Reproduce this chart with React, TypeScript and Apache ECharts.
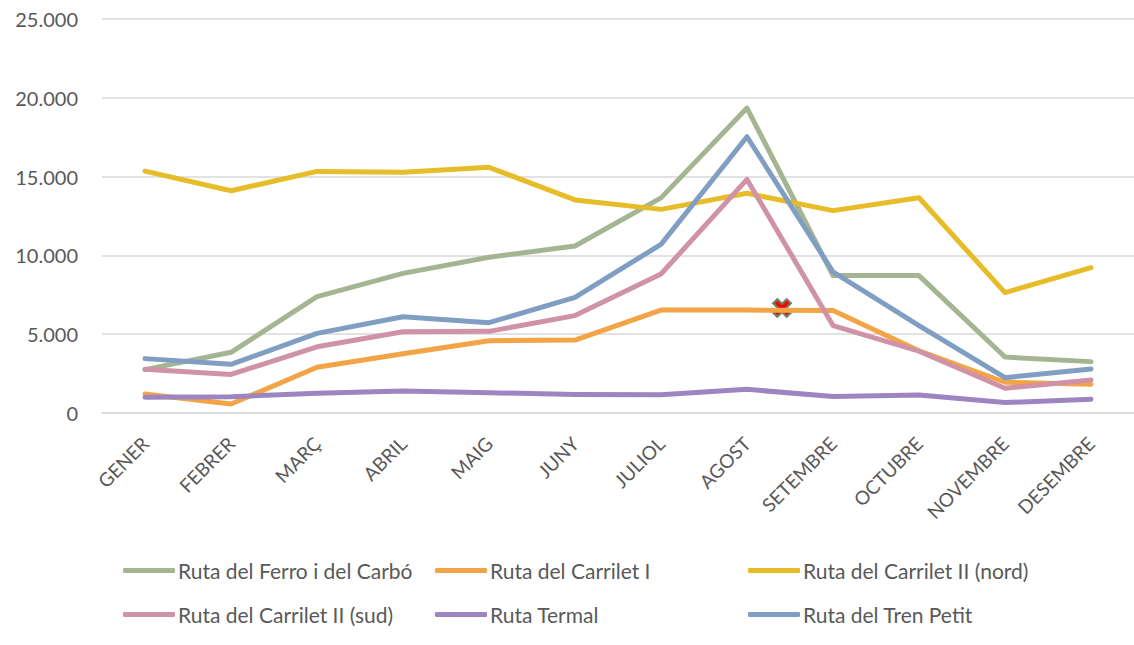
import React, { useEffect, useRef } from "react";
import * as echarts from "echarts";

const months = ["GENER", "FEBRER", "MARÇ", "ABRIL", "MAIG", "JUNY", "JULIOL", "AGOST", "SETEMBRE", "OCTUBRE", "NOVEMBRE", "DESEMBRE"];

const seriesNames = [
  "Ruta del Ferro i del Carbó",
  "Ruta del Carrilet I",
  "Ruta del Carrilet II (nord)",
  "Ruta del Carrilet II (sud)",
  "Ruta Termal",
  "Ruta del Tren Petit",
];

const ferroCarbo = [2750, 3850, 7380, 8860, 9880, 10600, 13650, 19350, 8720, 8720, 3550, 3260];
const carriletI = [1200, 570, 2900, 3760, 4590, 4630, 6530, 6530, 6500, 3950, 1950, 1830];
const carriletIINord = [15350, 14100, 15330, 15270, 15590, 13520, 12920, 13940, 12840, 13660, 7640, 9220];
const carriletIISud = [2780, 2450, 4200, 5150, 5180, 6180, 8820, 14820, 5550, 3920, 1570, 2090];
const termal = [1000, 1030, 1250, 1400, 1290, 1170, 1160, 1500, 1040, 1140, 660, 870];
const trenPetit = [3450, 3090, 5050, 6110, 5730, 7340, 10700, 17530, 8960, 5550, 2240, 2790];

const seriesData = [ferroCarbo, carriletI, carriletIINord, carriletIISud, termal, trenPetit];
const colors = ["#A5B592", "#F3A447", "#E7BC29", "#D092A7", "#9C85C0", "#809EC2"];

const yMin = 0;
const yMax = 25000;
const yInterval = 5000;

const legendPos = [
  { left: 118, top: 560 },
  { left: 430, top: 560 },
  { left: 743, top: 560 },
  { left: 118, top: 604 },
  { left: 430, top: 604 },
  { left: 743, top: 604 },
];

const fmt = (v: number) => String(v).replace(/\B(?=(\d{3})+(?!\d))/g, ".");

export default function App() {
  const ref = useRef<HTMLDivElement>(null);
  useEffect(() => {
    if (!ref.current) return;
    const chart = echarts.init(ref.current, null, { renderer: "svg" });
    const font = "Lato, 'Noto Sans', sans-serif";
    chart.setOption({
      animation: false,
      backgroundColor: "#ffffff",
      grid: { left: 102, top: 19, width: 1034, height: 394, containLabel: false },
      xAxis: {
        type: "category",
        data: months,
        boundaryGap: true,
        axisLine: { show: true, lineStyle: { color: "#D9D9D9", width: 1.5 } },
        axisTick: { show: false },
        axisLabel: {
          rotate: 45,
          interval: 0,
          margin: 27,
          color: "#595959",
          fontSize: 19,
          fontFamily: font,
        },
      },
      yAxis: {
        type: "value",
        min: yMin,
        max: yMax,
        interval: yInterval,
        axisLine: { show: false },
        axisTick: { show: false },
        splitLine: { lineStyle: { color: "#D9D9D9", width: 1.5 } },
        axisLabel: {
          color: "#595959",
          fontSize: 20,
          fontFamily: font,
          margin: 24,
          formatter: (v: number) => fmt(v),
        },
      },
      legend: seriesNames.map((name, i) => ({
        data: [name],
        left: legendPos[i].left + 5,
        top: legendPos[i].top,
        padding: 0,
        itemWidth: 52,
        itemHeight: 5,
        itemGap: 0,
        icon: "roundRect",
        textStyle: { color: "#595959", fontSize: 21, fontFamily: font, padding: [0, 0, 0, -2] },
        selectedMode: false,
      })),
      series: seriesNames.map((name, i) => ({
        name,
        type: "line",
        data: seriesData[i],
        showSymbol: false,
        symbol: "none",
        color: colors[i],
        lineStyle: { width: 5, color: colors[i], cap: "round", join: "round" },
        itemStyle: { color: colors[i] },
      })),
      graphic: [
        {
          type: "group",
          x: 782,
          y: 308,
          z: 100,
          children: [
            { type: "line", shape: { x1: -7.5, y1: -7.5, x2: 7.5, y2: 7.5 }, style: { stroke: "#6F7D62", lineWidth: 8 } },
            { type: "line", shape: { x1: -7.5, y1: 7.5, x2: 7.5, y2: -7.5 }, style: { stroke: "#6F7D62", lineWidth: 8 } },
            { type: "line", shape: { x1: -6, y1: -6, x2: 6, y2: 6 }, style: { stroke: "#FF0000", lineWidth: 3.5 } },
            { type: "line", shape: { x1: -6, y1: 6, x2: 6, y2: -6 }, style: { stroke: "#FF0000", lineWidth: 3.5 } },
          ],
        },
      ],
    });
    return () => chart.dispose();
  }, []);
  return (
    <div
      ref={ref}
      style={{ position: "fixed", left: 0, top: 0, width: 1134, height: 645, background: "#fff" }}
    />
  );
}
